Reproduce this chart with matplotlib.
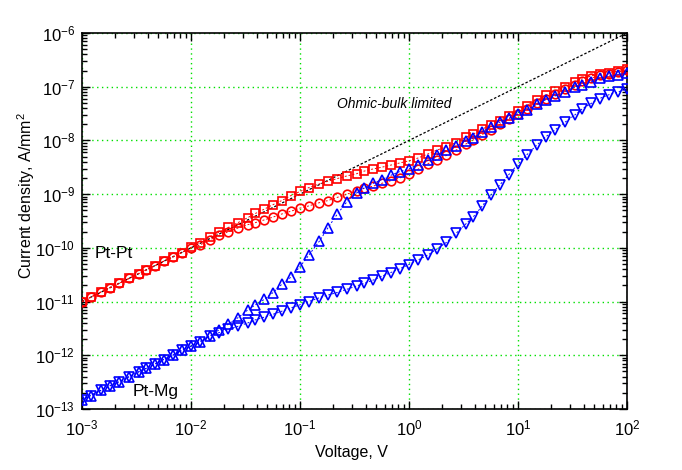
import matplotlib
matplotlib.use("Agg")
import matplotlib.pyplot as plt
import numpy as np
from matplotlib.ticker import LogLocator, LogFormatterSciNotation, NullFormatter

plt.rcParams["font.family"] = ["Liberation Sans", "DejaVu Sans"]
plt.rcParams["mathtext.default"] = "regular"

# applied voltage, V
volts = [
    0.001, 0.0012, 0.0015, 0.0018, 0.0022, 0.0027, 0.0033, 0.0039, 0.0047, 0.0056, 0.0068, 0.0082,
    0.01, 0.012, 0.015, 0.018, 0.022, 0.027, 0.033, 0.039, 0.047, 0.056, 0.068, 0.082,
    0.1, 0.12, 0.15, 0.18, 0.22, 0.27, 0.33, 0.39, 0.47, 0.56, 0.68, 0.82,
    1.0, 1.2, 1.5, 1.8, 2.2, 2.7, 3.3, 3.9, 4.7, 5.6, 6.8, 8.2,
    10, 12, 15, 18, 22, 27, 33, 39, 47, 56, 68, 82,
    100,
]

# log10 of current density (A/mm^2)
log_j_ptpt_sq = [
    -11.00, -10.92, -10.82, -10.74, -10.66, -10.57, -10.48, -10.41, -10.33, -10.25, -10.17, -10.09,
    -9.99, -9.91, -9.80, -9.71, -9.62, -9.53, -9.44, -9.36, -9.28, -9.20, -9.12, -9.03,
    -8.95, -8.88, -8.81, -8.76, -8.71, -8.66, -8.62, -8.57, -8.53, -8.50, -8.46, -8.42,
    -8.38, -8.33, -8.25, -8.18, -8.12, -8.04, -7.94, -7.88, -7.79, -7.71, -7.63, -7.54,
    -7.45, -7.35, -7.25, -7.16, -7.08, -7.00, -6.91, -6.85, -6.80, -6.76, -6.74, -6.71,
    -6.67,
]
log_j_ptpt_circ = [
    -11.00, -10.92, -10.82, -10.74, -10.66, -10.57, -10.48, -10.41, -10.33, -10.25, -10.17, -10.09,
    -10.00, -9.95, -9.85, -9.77, -9.70, -9.63, -9.57, -9.53, -9.48, -9.43, -9.37, -9.32,
    -9.26, -9.22, -9.16, -9.12, -9.06, -9.00, -8.94, -8.89, -8.85, -8.80, -8.75, -8.70,
    -8.63, -8.54, -8.43, -8.36, -8.28, -8.18, -8.07, -7.99, -7.89, -7.80, -7.70, -7.60,
    -7.50, -7.41, -7.31, -7.22, -7.14, -7.05, -6.97, -6.90, -6.84, -6.79, -6.76, -6.73,
    -6.69,
]
log_j_ptmg_up = [
    -12.83, -12.75, -12.65, -12.57, -12.49, -12.40, -12.31, -12.24, -12.16, -12.08, -12.00, -11.91,
    -11.83, -11.75, -11.64, -11.53, -11.42, -11.30, -11.16, -11.06, -10.96, -10.84, -10.68, -10.55,
    -10.35, -10.14, -9.88, -9.63, -9.37, -9.14, -8.98, -8.88, -8.80, -8.73, -8.65, -8.58,
    -8.53, -8.45, -8.37, -8.27, -8.18, -8.11, -8.01, -7.95, -7.84, -7.75, -7.66, -7.59,
    -7.51, -7.43, -7.33, -7.24, -7.17, -7.09, -7.01, -6.97, -6.91, -6.84, -6.80, -6.78,
    -6.74,
]
log_j_ptmg_down = [
    -12.83, -12.75, -12.65, -12.57, -12.49, -12.40, -12.31, -12.24, -12.16, -12.08, -12.00, -11.91,
    -11.83, -11.75, -11.64, -11.58, -11.52, -11.46, -11.40, -11.34, -11.29, -11.24, -11.18, -11.12,
    -11.06, -11.00, -10.93, -10.88, -10.83, -10.77, -10.71, -10.66, -10.60, -10.53, -10.46, -10.39,
    -10.31, -10.23, -10.13, -10.02, -9.90, -9.73, -9.56, -9.42, -9.22, -9.02, -8.83, -8.64,
    -8.44, -8.27, -8.08, -7.93, -7.80, -7.66, -7.53, -7.41, -7.31, -7.22, -7.15, -7.10,
    -7.04,
]

# ohmic (bulk limited) reference line
ohmic_v = [1e-3, 1e2]
ohmic_j = [1e-11, 1e-6]

x_ticks = [1e-3, 1e-2, 1e-1, 1e0, 1e1, 1e2]
y_ticks = [1e-13, 1e-12, 1e-11, 1e-10, 1e-9, 1e-8, 1e-7, 1e-6]

RED = "#ff0000"
BLUE = "#0000ff"


def to_j(log_vals):
    return [10.0 ** v for v in log_vals]


fig = plt.figure(figsize=(6.82, 4.70), dpi=100)
ax = fig.add_axes([0.1202, 0.1298, 0.7992, 0.8000])

ax.set_xscale("log")
ax.set_yscale("log")
ax.set_xlim(1e-3, 1e2)
ax.set_ylim(1e-13, 1e-6)

ax.grid(True, which="major", color="#00e000", linestyle=(0, (1, 2.5)), linewidth=1.0)
ax.set_axisbelow(True)

ax.plot(ohmic_v, ohmic_j, color="black", linestyle=(0, (2, 1.5)), linewidth=0.9, zorder=2)

series = [
    (log_j_ptpt_sq, "s", RED, 5.2),
    (log_j_ptpt_circ, "o", RED, 6.2),
    (log_j_ptmg_up, "^", BLUE, 7.0),
    (log_j_ptmg_down, "v", BLUE, 7.0),
]
for i, (vals, marker, color, size) in enumerate(series):
    ax.plot(volts, to_j(vals), linestyle=(0, (2, 2)), linewidth=0.7, color=color,
            marker=marker, markersize=size, markerfacecolor="none",
            markeredgecolor=color, markeredgewidth=1.2, zorder=3 + i)

ax.text(0.218, 4.8e-8, "Ohmic-bulk limited", fontsize=10, style="italic",
        ha="left", va="center")
ax.text(1.31e-3, 8.0e-11, "Pt-Pt", fontsize=12.5, ha="left", va="center")
ax.text(2.94e-3, 2.15e-13, "Pt-Mg", fontsize=12.5, ha="left", va="center")

ax.xaxis.set_minor_locator(LogLocator(base=10, subs=np.arange(2, 10), numticks=20))
ax.yaxis.set_minor_locator(LogLocator(base=10, subs=np.arange(2, 10), numticks=20))
ax.set_xticks(x_ticks)
ax.set_yticks(y_ticks)
ax.xaxis.set_major_formatter(LogFormatterSciNotation())
ax.yaxis.set_major_formatter(LogFormatterSciNotation())
ax.xaxis.set_minor_formatter(NullFormatter())
ax.yaxis.set_minor_formatter(NullFormatter())

ax.tick_params(which="both", direction="in", top=True, right=True, width=1.0)
ax.tick_params(which="major", length=6, labelsize=12)
ax.tick_params(which="minor", length=3.5)
ax.tick_params(axis="x", which="major", pad=7)
ax.tick_params(axis="y", which="major", pad=5)
for s in ax.spines.values():
    s.set_linewidth(1.2)

fig.text(0.5147, 0.0362, "Voltage, V", fontsize=11.5, ha="center", va="center")
fig.text(0.038, 0.585, "Current density, A/mm$^2$", fontsize=11.5, rotation=90,
         ha="center", va="center")

fig.savefig("out.png", dpi=100, facecolor="white")
